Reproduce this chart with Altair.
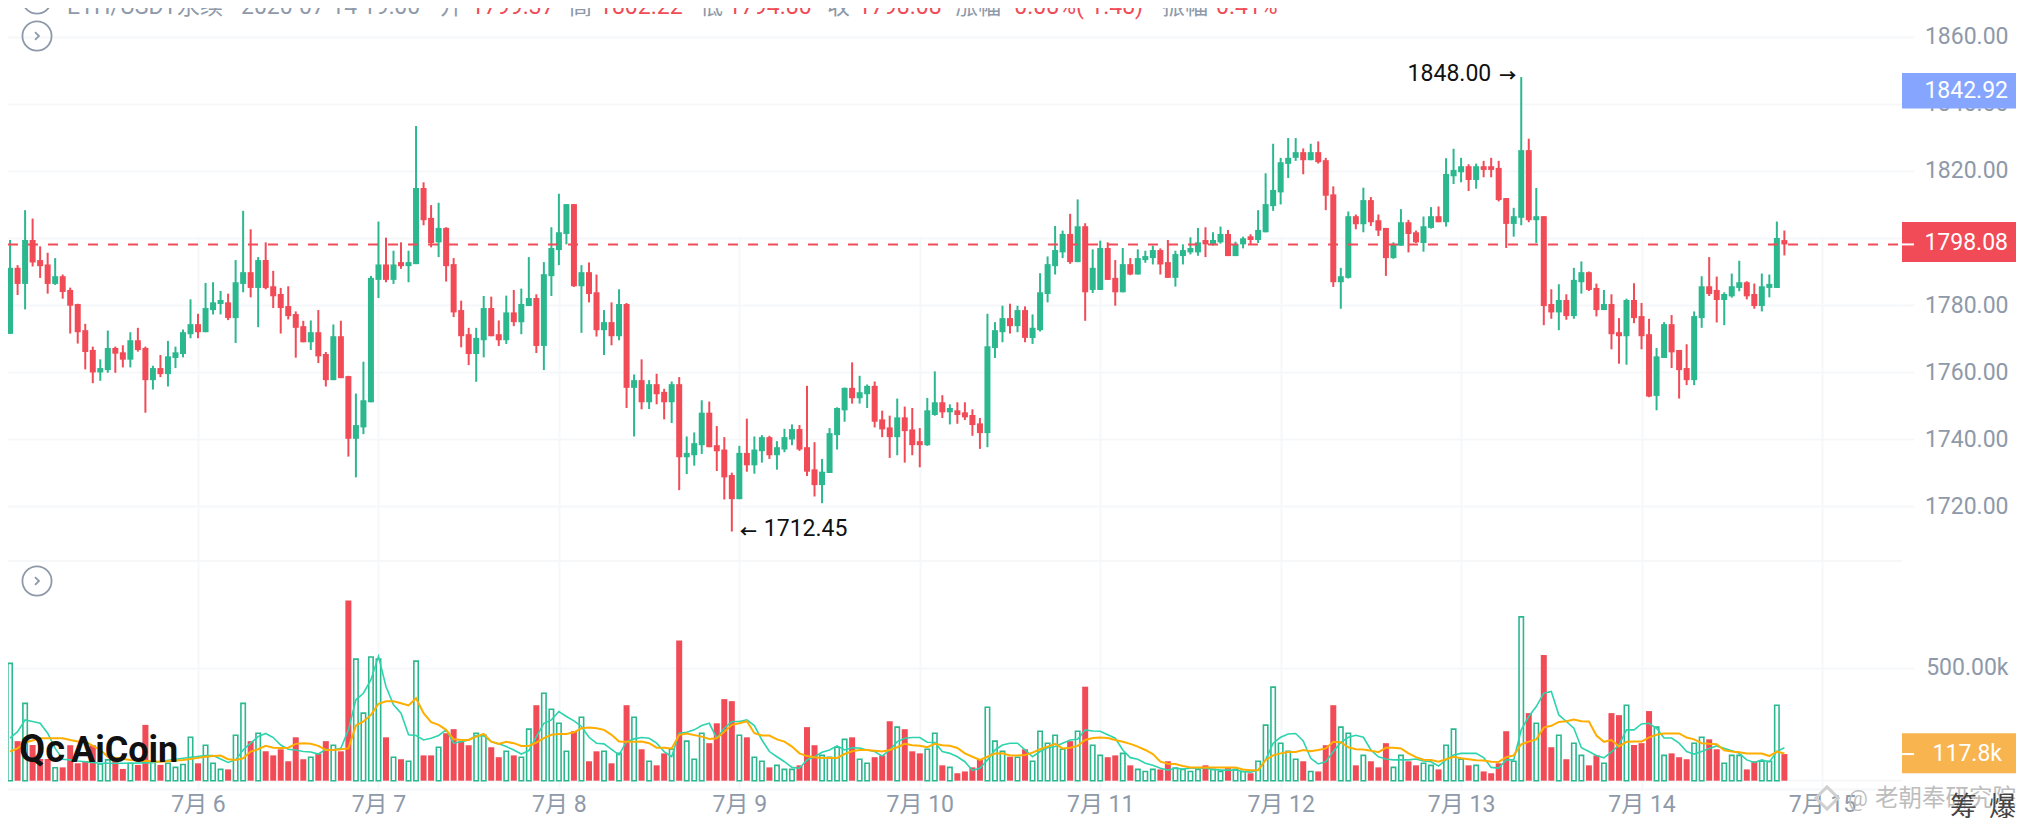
import altair as alt
import pandas as pd

highs = [
 1799.4,1791.9,1808.3,1805.8,1797.5,1795.6,1794.0,1789.1,1785.2,1780.4,
 1774.4,1767.6,1763.8,1772.4,1767.6,1768.0,1771.9,1773.2,1767.6,1761.9,
 1765.1,1769.3,1767.6,1772.7,1781.7,1777.4,1786.6,1786.8,1784.2,1783.4,
 1793.4,1808.1,1802.6,1794.3,1798.7,1790.2,1785.1,1785.6,1778.1,1775.3,
 1775.4,1778.5,1766.0,1774.2,1775.3,1758.9,1753.6,1763.1,1788.7,1804.9,
 1800.1,1796.2,1798.7,1796.2,1833.4,1816.6,1809.8,1810.5,1803.2,1794.0,
 1781.3,1773.2,1773.2,1782.7,1782.5,1775.4,1782.8,1784.5,1784.9,1794.3,
 1783.2,1792.8,1803.2,1813.2,1810.1,1810.1,1791.9,1792.7,1789.1,1778.5,
 1780.8,1784.7,1780.6,1759.3,1763.8,1757.6,1759.5,1755.0,1757.2,1758.5,
 1740.8,1742.0,1751.6,1751.2,1743.9,1740.6,1730.0,1738.0,1746.1,1740.8,
 1741.2,1741.0,1739.4,1743.1,1744.4,1744.2,1755.9,1739.1,1734.1,1743.3,
 1749.5,1755.4,1762.9,1758.9,1756.3,1757.2,1748.5,1747.0,1752.1,1749.7,
 1749.3,1743.3,1752.3,1760.2,1753.1,1750.4,1751.0,1751.0,1748.9,1746.3,
 1777.4,1774.9,1779.8,1780.4,1779.8,1779.6,1777.2,1789.5,1794.5,1803.6,
 1802.2,1807.2,1811.5,1804.4,1796.6,1799.2,1798.7,1793.4,1797.0,1794.0,
 1796.6,1796.2,1797.7,1796.9,1799.4,1796.2,1798.1,1800.2,1803.0,1803.2,
 1801.7,1803.4,1802.4,1798.9,1800.4,1801.1,1808.3,1819.3,1828.1,1823.9,
 1829.8,1829.8,1826.7,1828.1,1828.8,1823.9,1815.4,1791.1,1807.9,1807.0,
 1815.0,1812.2,1807.0,1803.0,1798.7,1808.6,1805.4,1802.2,1806.4,1809.2,
 1809.4,1823.8,1826.6,1823.9,1822.0,1822.2,1823.0,1823.9,1823.0,1811.9,
 1809.0,1848.0,1829.6,1814.9,1806.5,1784.7,1786.2,1783.2,1791.1,1793.0,
 1790.0,1786.4,1784.5,1783.2,1776.1,1781.9,1786.5,1780.6,1775.9,1767.2,
 1774.9,1777.0,1766.6,1768.3,1778.1,1788.6,1794.3,1788.5,1783.8,1789.4,
 1793.2,1787.1,1786.4,1789.4,1789.1,1804.9,1802.22]
body_tops = [
 1791.1,1791.1,1799.4,1799.4,1793.4,1792.1,1788.6,1788.6,1784.5,1780.3,
 1772.5,1766.6,1761.2,1767.2,1767.2,1765.9,1769.5,1769.5,1767.2,1761.2,
 1761.2,1764.7,1765.9,1771.9,1774.3,1774.3,1779.1,1780.8,1781.5,1780.8,
 1786.8,1789.8,1789.8,1793.4,1793.4,1785.6,1783.3,1779.7,1777.3,1773.7,
 1771.9,1771.9,1765.4,1770.7,1770.7,1758.8,1744.2,1751.6,1788.1,1792.1,
 1792.1,1792.1,1792.8,1792.8,1814.9,1814.9,1806.0,1803.0,1803.0,1792.2,
 1778.5,1771.3,1770.2,1779.1,1779.1,1771.3,1777.8,1777.8,1780.3,1782.1,
 1782.1,1789.2,1797.0,1801.7,1810.1,1810.1,1789.8,1789.8,1783.8,1774.9,
 1774.9,1780.3,1780.3,1757.6,1757.6,1756.4,1756.4,1754.1,1756.4,1756.4,
 1735.9,1738.8,1747.9,1747.9,1738.2,1736.9,1729.3,1735.9,1735.9,1736.9,
 1740.6,1740.6,1737.6,1740.6,1743.0,1743.0,1737.6,1731.0,1730.3,1741.8,
 1749.3,1755.3,1755.3,1754.0,1755.9,1755.9,1745.9,1743.5,1746.5,1746.5,
 1742.9,1739.4,1748.6,1751.0,1751.0,1749.3,1748.6,1748.0,1747.2,1744.7,
 1767.7,1772.5,1776.1,1776.1,1778.5,1778.5,1773.2,1783.8,1792.2,1796.4,
 1801.2,1801.2,1803.5,1803.5,1791.1,1797.0,1797.0,1788.1,1792.2,1792.2,
 1794.0,1794.6,1796.4,1796.4,1792.8,1795.2,1796.4,1797.0,1798.7,1799.4,
 1799.4,1801.2,1801.2,1798.2,1799.9,1800.5,1802.4,1810.1,1814.3,1822.6,
 1823.9,1825.6,1825.6,1825.6,1825.6,1823.2,1813.0,1788.6,1806.5,1806.5,
 1811.3,1811.3,1805.3,1803.0,1798.2,1804.7,1804.7,1801.7,1803.5,1806.5,
 1806.5,1819.1,1820.3,1821.4,1821.4,1821.4,1821.4,1821.4,1820.9,1811.9,
 1806.5,1826.2,1826.2,1806.5,1806.5,1780.3,1781.5,1781.5,1787.5,1789.8,
 1789.8,1785.1,1780.3,1780.3,1771.9,1781.5,1781.5,1776.7,1771.3,1764.7,
 1774.3,1774.3,1766.6,1761.2,1776.7,1785.6,1785.6,1784.5,1783.3,1785.6,
 1786.8,1786.8,1783.3,1785.6,1786.3,1800.0,1799.37]
body_bottoms = [
 1771.4,1786.3,1786.3,1792.7,1791.6,1786.3,1786.3,1783.9,1779.8,1771.9,
 1766.0,1759.9,1759.9,1760.6,1765.5,1763.7,1763.7,1766.6,1757.6,1757.6,
 1759.4,1759.4,1764.2,1765.4,1771.3,1771.9,1771.9,1778.5,1780.3,1776.1,
 1776.1,1786.3,1785.1,1785.1,1785.1,1782.6,1779.1,1776.7,1773.2,1768.9,
 1768.9,1764.7,1757.6,1757.6,1758.2,1740.1,1740.1,1743.5,1751.0,1787.5,
 1787.5,1787.5,1791.6,1791.6,1792.2,1805.3,1798.5,1798.7,1791.6,1777.8,
 1770.7,1765.4,1765.4,1769.5,1770.7,1769.5,1769.5,1774.9,1774.9,1779.7,
 1767.8,1767.8,1788.6,1796.4,1801.2,1785.6,1785.6,1783.3,1772.5,1772.5,
 1770.7,1770.7,1755.3,1755.3,1751.0,1751.0,1753.4,1751.0,1751.0,1734.6,
 1734.6,1735.2,1738.2,1737.6,1736.4,1728.6,1722.1,1722.1,1732.2,1732.2,
 1736.4,1735.2,1735.2,1736.9,1739.9,1736.9,1730.3,1726.3,1726.3,1729.9,
 1741.2,1748.6,1752.2,1752.2,1753.4,1745.2,1742.9,1740.6,1740.6,1742.4,
 1738.2,1738.2,1738.2,1747.2,1748.0,1748.0,1747.2,1746.5,1744.2,1741.8,
 1741.8,1767.2,1771.9,1773.7,1773.7,1770.2,1770.2,1772.5,1783.3,1791.6,
 1795.7,1792.8,1792.8,1783.8,1784.5,1784.5,1787.5,1783.8,1783.8,1789.1,
 1789.1,1793.4,1794.0,1792.1,1788.1,1788.1,1794.6,1795.7,1795.7,1798.1,
 1798.1,1798.7,1794.6,1794.6,1798.1,1799.4,1799.4,1801.7,1809.5,1813.6,
 1822.1,1823.9,1823.2,1823.2,1822.6,1812.6,1786.8,1786.8,1788.1,1804.1,
 1804.1,1804.7,1802.2,1794.0,1794.0,1797.7,1801.2,1798.7,1798.5,1803.0,
 1804.7,1804.7,1818.4,1819.6,1817.3,1817.3,1820.3,1820.3,1811.3,1804.2,
 1804.2,1806.0,1805.3,1805.3,1779.7,1777.8,1777.8,1776.7,1776.7,1786.8,
 1784.5,1778.5,1778.5,1771.3,1770.7,1770.7,1776.1,1770.7,1752.7,1752.9,
 1764.2,1765.9,1760.6,1757.6,1757.6,1776.1,1783.3,1781.5,1781.5,1782.6,
 1785.1,1782.6,1779.7,1779.7,1785.1,1785.1,1798.08]
lows = [
 1771.4,1783.0,1778.7,1791.5,1788.1,1783.4,1786.0,1781.9,1771.5,1768.5,
 1760.8,1756.7,1757.4,1759.8,1759.8,1761.4,1761.4,1766.1,1747.9,1754.8,
 1758.5,1755.7,1761.2,1764.4,1770.1,1770.1,1771.9,1777.2,1777.2,1775.5,
 1768.7,1783.8,1782.3,1773.4,1784.7,1779.1,1771.5,1775.7,1764.3,1768.9,
 1766.6,1762.7,1755.7,1757.6,1758.2,1734.8,1728.6,1741.5,1751.0,1782.1,
 1786.8,1786.3,1790.8,1786.8,1792.2,1803.8,1797.2,1794.3,1787.0,1776.4,
 1767.4,1762.1,1757.1,1764.4,1770.7,1767.8,1768.4,1773.7,1771.3,1779.7,
 1765.7,1760.6,1782.7,1791.9,1798.1,1785.4,1771.7,1780.8,1770.6,1765.1,
 1768.0,1769.5,1749.3,1740.8,1748.9,1749.0,1750.4,1745.9,1744.8,1724.8,
 1729.6,1732.1,1735.6,1737.6,1730.5,1722.0,1712.45,1722.1,1730.3,1729.7,
 1733.0,1734.1,1730.9,1736.1,1738.2,1736.5,1729.0,1722.9,1720.9,1729.9,
 1736.9,1745.2,1750.6,1750.6,1749.3,1743.5,1740.6,1734.4,1735.2,1733.0,
 1735.2,1731.6,1738.0,1747.0,1746.3,1744.4,1744.6,1745.7,1741.0,1737.1,
 1737.6,1764.2,1768.9,1771.5,1771.9,1768.9,1768.4,1772.1,1780.8,1789.1,
 1794.0,1792.3,1792.8,1775.3,1783.6,1784.5,1787.5,1779.8,1783.8,1788.9,
 1789.1,1792.6,1792.1,1789.1,1788.1,1785.5,1792.1,1795.1,1794.7,1794.3,
 1797.7,1798.3,1794.6,1794.6,1796.9,1798.1,1798.5,1801.7,1808.1,1810.0,
 1817.9,1823.0,1819.0,1823.2,1822.2,1808.3,1785.4,1778.9,1787.9,1802.6,
 1801.7,1803.6,1800.6,1788.7,1793.8,1797.7,1795.7,1798.5,1795.9,1802.8,
 1804.7,1803.4,1816.1,1816.6,1814.0,1814.7,1818.1,1818.1,1810.9,1797.0,
 1800.4,1803.8,1804.7,1798.5,1774.0,1775.9,1772.5,1775.6,1775.9,1783.4,
 1784.2,1776.6,1778.5,1766.8,1762.5,1762.2,1774.6,1766.8,1752.5,1748.6,
 1764.2,1761.2,1752.1,1756.1,1756.1,1773.2,1782.7,1774.8,1774.0,1782.2,
 1784.1,1781.7,1778.9,1778.1,1782.3,1785.1,1794.80]
directions = (
 "GRGRRRGRRR" "RRGGRRGRRG" "RGGGGRGGGR" "GGRGRRRRRR" "GRRGRRGGGG"
 "RGRGGRRGRR" "RRGGRRGRGG" "RGGGGRGRRG" "RGRGRGRRGR" "GGGRRRRGRG"
 "GRGGGRRRGG" "GGRGGRRRGR" "RRGGRGRRRR" "GGGRGRGGGG" "GRGRGGRRGR"
 "GGGRRGGGGR" "GGRGGRGGGG" "GGRGRRRGGR" "GRRRGGRRGG" "RGGGRGRRRR"
 "GGRGRRGRGG" "RRGRRGRRRG" "GRRRGGRRGG" "GRRGGGR")
volumes = [
 519,175,342,158,96,96,57,59,157,77, 87,157,74,92,87,52,77,70,247,84,
 70,77,59,72,192,77,157,77,50,50, 201,342,175,210,130,112,139,86,192,95,
 104,121,175,157,130,797,538,299,547,538, 192,104,95,86,529,112,112,148,210,228,
 175,157,210,201,148,104,130,112,104,228, 334,387,316,254,130,219,281,86,130,130,
 77,121,334,281,139,86,68,121,139,620, 175,95,210,166,254,361,352,201,192,104,
 86,59,68,50,50,68,237,157,112,104, 148,183,192,95,77,104,112,263,237,228,
 130,121,139,210,68,59,33,41,59,95, 325,175,130,106,104,139,86,219,166,201,
 139,175,219,416,157,112,104,112,121,68, 50,41,50,50,86,56,50,41,50,68,
 50,41,56,50,41,33,86,246,414,166, 130,95,86,41,41,157,334,237,210,68,
 112,86,59,166,59,112,86,68,77,68, 50,157,228,95,68,68,41,33,77,219,
 86,725,299,254,556,148,201,95,166,112, 68,112,77,299,290,334,158,166,308,237,
 112,121,104,95,166,192,183,139,77,112, 112,50,86,86,86,334,117.8]
ma_orange = [
 129,143,169,None,188,None,None,188,180,173, 173,None,136,106,None,None,92,None,None,None,
 84,None,None,92,96,101,106,109,111,95, 92,99,129,139,154,146,145,146,163,166,
 163,154,136,136,139,143,244,262,291,340, 351,351,343,333,365,299,259,247,225,183,
 180,180,195,207,173,163,172,166,154,154, 169,188,203,207,207,214,232,235,232,225,
 203,173,172,172,173,166,146,146,143,203, 209,None,195,185,188,217,247,254,263,210,
 200,200,183,173,151,121,109,104,101,101, 101,118,130,136,136,133,129,136,148,163,
 157,155,148,163,157,155,145,121,106,92, 106,120,121,112,111,114,124,139,151,163,
 143,146,154,180,189,191,189,180,172,163, 151,136,118,84,75,74,65,58,58,58,
 58,58,58,58,50,46,46,92,112,121, 127,127,136,130,136,143,172,170,148,139,
 138,133,126,146,146,143,121,104,93,92, 84,95,106,99,95,90,89,84,83,104,
 112,161,173,183,235,243,260,263,271,263, 262,200,172,180,151,172,173,173,192,203,
 209,209,209,191,183,166,163,161,135,129, 126,120,120,120,109,129,120]
ma_teal = [
 188,217,269,262,254,210,143,95,92,87, None,None,77,None,None,None,77,None,None,80,
 None,None,None,99,None,None,111,111,96,81, 92,136,166,195,209,191,158,139,136,129,
 127,118,139,136,143,225,358,387,447,550, 417,336,299,203,200,180,188,200,225,166,
 173,180,200,198,173,163,151,136,118,133, 195,254,269,306,284,265,240,192,166,163,
 139,114,173,185,191,188,166,129,106,210, 214,225,244,254,188,232,262,262,269,244,
 180,129,106,84,59,55,92,106,126,136, 154,136,146,145,136,129,109,136,173,188,
 191,191,170,169,129,121,106,84,46,55, 92,136,158,166,166,136,106,129,146,151,
 166,180,183,225,220,219,203,188,136,102, 95,77,68,55,47,55,52,55,55,55,
 50,47,47,47,41,38,47,92,166,192, 207,209,176,99,74,84,129,169,192,201,
 192,136,106,96,92,92,92,96,87,84, 65,92,114,121,121,121,102,59,56,92,
 92,225,284,328,387,395,291,262,232,146, 129,112,101,127,158,225,225,251,254,232,
 189,189,166,129,118,129,143,154,143,133, 121,92,81,92,83,129,146]

price_ticks = [1720, 1740, 1760, 1780, 1800, 1820, 1840, 1860]
day_ticks = list(range(0, 217, 24))
last_price = 1798.08
mark_price = 1842.92
last_volume = 117.8
high_mark = 1848.00
low_mark = 1712.45
high_hour = 176
low_hour = 71

header_items = [
 ("ETH/USDT永续", 59, "#8e99a9"), ("2020-07-14 19:00", 233, "#8e99a9"), ("开", 432, "#8e99a9"),
 ("1799.37", 463, "#f04b57"), ("高", 561, "#8e99a9"), ("1802.22", 591, "#f04b57"),
 ("低", 692, "#8e99a9"), ("1794.80", 720, "#f04b57"), ("收", 819, "#8e99a9"),
 ("1798.08", 850, "#f04b57"), ("涨幅", 947, "#8e99a9"), ("-0.08%(-1.48)", 1000, "#f04b57"),
 ("振幅", 1154, "#8e99a9"), ("0.41%", 1208, "#f04b57"),
]

GREEN, RED = "#2cb88f", "#f04b57"
GRID, GRAY = "#f6f7f9", "#8e99a9"
FONT = "Roboto, 'Noto Sans CJK SC', sans-serif"
FS = 23
RIGHT = 2008  # right edge the page can hold without overflowing

df = pd.DataFrame({
    "h": [i - 25 for i in range(len(highs))],
    "high": highs, "low": lows, "top": body_tops, "bottom": body_bottoms,
    "dir": list(directions), "vol": volumes, "ma_o": ma_orange, "ma_t": ma_teal,
})
up = df[df["dir"] == "G"]
dn = df[df["dir"] == "R"]

xs = alt.Scale(domain=[-24.61, 225.98], nice=False, zero=False)
ps = alt.Scale(domain=[1703.66, 1868.59], range=[553, 0], nice=False, zero=False)
vs = alt.Scale(domain=[-36.7, 972], range=[781, 553], nice=False, zero=False)
x_axis = alt.Axis(values=day_ticks, title=None, grid=True, gridColor=GRID, gridWidth=2,
                  domainColor=GRID, domainWidth=2, ticks=False, labelPadding=4,
                  labelFont=FONT, labelFontSize=FS, labelColor=GRAY,
                  labelExpr="'7月 ' + (6 + datum.value/24)", labelOverlap=False)
X = alt.X("h:Q", scale=xs, axis=x_axis)

base_axis = dict(title=None, domain=False, grid=True, gridColor=GRID, gridWidth=2,
                 tickColor=GRID, tickWidth=2, tickSize=12, labelFont=FONT, labelFontSize=FS,
                 labelColor=GRAY, labelAlign="right", labelPadding=94, orient="right",
                 labelBaseline="middle", labelOverlap=False)

layers = []
layers.append(alt.Chart(up).mark_rule(color=GREEN, strokeWidth=2, clip=True).encode(
    x=X, y=alt.Y("high:Q", scale=ps, axis=alt.Axis(values=price_ticks,
        labelExpr="datum.value == 1800 ? '' : format(datum.value, '.2f')", **base_axis)), y2="low:Q"))
layers.append(alt.Chart(dn).mark_rule(color=RED, strokeWidth=2, clip=True).encode(
    x=X, y=alt.Y("high:Q", scale=ps, axis=None), y2="low:Q"))
for d, c in ((up, GREEN), (dn, RED)):
    layers.append(alt.Chart(d).mark_bar(color=c, size=6, clip=True).encode(
        x=X, y=alt.Y("top:Q", scale=ps, axis=None), y2="bottom:Q"))

# volume separators and bars
sep = pd.DataFrame({"v": [0, 972]})
layers.append(alt.Chart(sep).mark_rule(color=GRID, strokeWidth=2).encode(
    x=alt.value(0), x2=alt.value(1894),
    y=alt.Y("v:Q", scale=vs, axis=alt.Axis(values=[500], labelExpr="'500.00k'", **base_axis))))
layers.append(alt.Chart(up).mark_bar(fill="white", stroke=GREEN, strokeWidth=1.6, size=4.4, clip=True).encode(
    x=X, y=alt.Y("vol:Q", scale=vs, axis=None), y2=alt.datum(0)))
layers.append(alt.Chart(dn).mark_bar(color=RED, size=6, clip=True).encode(
    x=X, y=alt.Y("vol:Q", scale=vs, axis=None), y2=alt.datum(0)))
layers.append(alt.Chart(df.dropna(subset=["ma_t"])).mark_line(color="#2dd4ae", strokeWidth=1.6, clip=True).encode(
    x=X, y=alt.Y("ma_t:Q", scale=vs, axis=None)))
layers.append(alt.Chart(df.dropna(subset=["ma_o"])).mark_line(color="#ffae00", strokeWidth=2, clip=True).encode(
    x=X, y=alt.Y("ma_o:Q", scale=vs, axis=None)))

# last price line and value boxes
layers.append(alt.Chart(pd.DataFrame({"p": [last_price]})).mark_rule(
    color=RED, strokeWidth=2, strokeDash=[10, 10]).encode(
    x=alt.value(0), x2=alt.value(1894), y=alt.Y("p:Q", scale=ps, axis=None)))

def box(scale, lo, hi, color):
    return alt.Chart(pd.DataFrame({"a": [lo], "b": [hi]})).mark_rect(color=color).encode(
        x=alt.value(1894), x2=alt.value(RIGHT), y=alt.Y("a:Q", scale=scale, axis=None), y2="b:Q")

def box_text(scale, val, text, xp=2000):
    return alt.Chart(pd.DataFrame({"v": [val]})).mark_text(
        text=text, color="white", font=FONT, fontSize=FS, align="right", baseline="middle").encode(
        x=alt.value(xp), y=alt.Y("v:Q", scale=scale, axis=None))

def box_tick(scale, val):
    return alt.Chart(pd.DataFrame({"v": [val]})).mark_rule(color="white", strokeWidth=2).encode(
        x=alt.value(1894), x2=alt.value(1906), y=alt.Y("v:Q", scale=scale, axis=None))

layers += [box(ps, 1838.6, 1849.2, "#85a5ff"), box_text(ps, mark_price + 0.8, "1842.92"),
           box(ps, 1792.8, 1804.8, RED), box_text(ps, last_price + 0.3, "1798.08"), box_tick(ps, last_price),
           box(vs, 33, 210, "#f7b44f"), box_text(vs, last_volume + 2, "117.8k", 1994), box_tick(vs, last_volume)]

# high and low annotations
anno = [("1848.00", high_hour, high_mark, "right", -30, -3, "normal", 23),
        ("→", high_hour, high_mark, "right", -5, 0, "bold", 17),
        ("←", low_hour, low_mark, "left", 8, 1, "bold", 17),
        ("1712.45", low_hour, low_mark, "left", 32, -3, "normal", 23)]
for text, hh, pp, al, dx, dy, w, size in anno:
    layers.append(alt.Chart(pd.DataFrame({"h": [hh], "p": [pp]})).mark_text(
        text=text, color="#111111", font=FONT, fontSize=size, fontWeight=w, align=al,
        baseline="middle", dx=dx, dy=dy).encode(
        x=X, y=alt.Y("p:Q", scale=ps, axis=None)))

# circled chevrons
for yp in (-9, 28, 573):
    layers.append(alt.Chart(pd.DataFrame({"k": [0]})).mark_point(
        shape="circle", size=850, stroke=GRAY, strokeWidth=1.8, filled=False, opacity=1).encode(
        x=alt.value(29), y=alt.value(yp)))
    layers.append(alt.Chart(pd.DataFrame({"k": [0]})).mark_point(
        shape="M-0.25,-0.5L0.25,0L-0.25,0.5", size=250, stroke=GRAY, strokeWidth=1.8, filled=False, opacity=1).encode(
        x=alt.value(29), y=alt.value(yp)))

# header line, cut by the top of the picture
for text, xp, c in header_items:
    layers.append(alt.Chart(pd.DataFrame({"k": [0]})).mark_text(
        text=text, color=c, font=FONT, fontSize=FS, align="left", baseline="alphabetic").encode(
        x=alt.value(xp), y=alt.value(6)))

# logo and watermarks
for text, xp, yp, size, c, w in [
    ("Qc", 11, 754, 38, "#111111", "bold"), ("AiCoin", 63, 754, 36, "#111111", "bold"),
    ("@", 1840, 798, 22, "#bdbdbd", "normal"), ("老朝奉研究院", 1867, 798, 23.5, "#bdbdbd", "normal"),
    ("筹", 1942, 808, 27, "#444444", "normal"), ("爆", 1981, 808, 27, "#444444", "normal")]:
    layers.append(alt.Chart(pd.DataFrame({"k": [0]})).mark_text(
        text=text, color=c, font=FONT, fontSize=size, fontWeight=w, align="left", baseline="alphabetic").encode(
        x=alt.value(xp), y=alt.value(yp)))
layers.append(alt.Chart(pd.DataFrame({"k": [0]})).mark_point(
    shape="diamond", size=500, stroke="#cfcfcf", strokeWidth=3, filled=False, opacity=1).encode(
    x=alt.value(1819), y=alt.value(790)))

chart = alt.layer(*layers).resolve_scale(y="independent").properties(
    width=1894, height=781,
    padding={"left": 0, "top": 0, "right": RIGHT - 1894, "bottom": 29},
    autosize=alt.AutoSizeParams(type="none", contains="content"),
    background="white",
).configure_view(stroke=None)

chart.save("out.html", embed_options={"renderer": "svg", "actions": False})
